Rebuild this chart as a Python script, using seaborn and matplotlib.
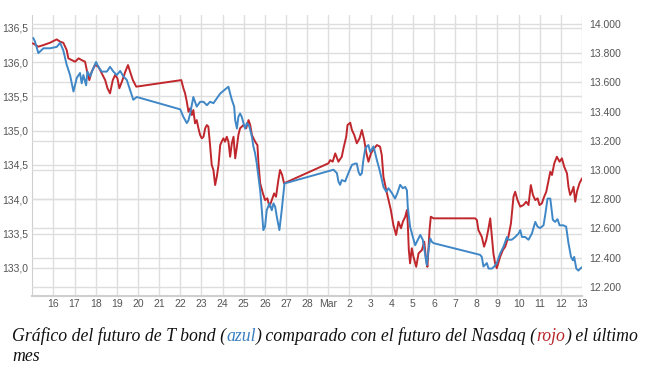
import pandas as pd
import seaborn as sns
import matplotlib.pyplot as plt
from matplotlib.ticker import FuncFormatter, FixedLocator

# T bond future (left axis), day number: Feb 16 = 16, Mar 1 = 29, Mar 13 = 41
bond_days = [15.05, 15.13, 15.29, 15.53, 15.84, 16.16, 16.32, 16.47, 16.63, 16.79, 16.95, 17.11, 17.26, 17.34,
             17.42, 17.55, 17.61, 17.74, 17.89, 18.02, 18.13, 18.29, 18.53, 18.68, 18.84, 19.00, 19.16, 19.31,
             19.47, 19.63, 19.78, 19.95,
             22.00, 22.15, 22.31, 22.39, 22.47, 22.62, 22.70, 22.78, 22.94, 23.10, 23.26, 23.41, 23.57, 23.73,
             23.89, 24.04, 24.28, 24.36, 24.44, 24.55, 24.60, 24.68, 24.75, 24.83, 24.91, 24.99, 25.07, 25.15,
             25.27, 25.39, 25.46, 25.54, 25.62, 25.70, 25.78, 25.86, 25.93, 26.01, 26.09, 26.22, 26.33, 26.41,
             26.49, 26.57, 26.69, 26.80, 26.88, 26.93,
             29.25, 29.41, 29.48, 29.56, 29.64, 29.80, 29.95, 30.12, 30.27, 30.35, 30.43, 30.51, 30.59, 30.66,
             30.74, 30.82, 30.90, 30.98, 31.14, 31.30, 31.45, 31.61, 31.74, 31.85, 32.01, 32.16, 32.27, 32.40,
             32.53, 32.64, 32.72, 32.76, 32.87, 33.00, 33.11, 33.19, 33.35, 33.47, 33.55, 33.66, 33.74, 33.82,
             33.90, 33.98,
             36.18, 36.26, 36.34, 36.50, 36.58, 36.74, 36.85, 36.97, 37.13, 37.29, 37.45, 37.52, 37.68, 37.84,
             38.00, 38.08, 38.16, 38.31, 38.47, 38.63, 38.79, 38.90, 39.02, 39.18, 39.26, 39.37, 39.50, 39.62,
             39.73, 39.84, 39.94, 40.12, 40.25, 40.36, 40.48, 40.57, 40.63, 40.73, 40.83, 40.92, 41.00]
bond_vals = [136.35, 136.30, 136.13, 136.20, 136.20, 136.22, 136.28, 136.17, 135.96, 135.81, 135.57, 135.77,
             135.84, 135.69, 135.81, 135.66, 135.86, 135.79, 135.91, 136.00, 135.93, 135.86, 135.86, 135.93,
             135.86, 135.81, 135.87, 135.79, 135.74, 135.59, 135.45, 135.49,
             135.31, 135.20, 135.11, 135.15, 135.25, 135.49, 135.42, 135.35, 135.42, 135.42, 135.37, 135.42,
             135.40, 135.47, 135.54, 135.58, 135.64, 135.54, 135.45, 135.35, 135.15, 135.03, 135.20, 135.25,
             135.20, 135.11, 135.03, 135.11, 135.06, 134.91, 134.77, 134.67, 134.52, 134.33, 134.13, 133.84,
             133.55, 133.60, 133.84, 133.94, 133.84, 133.94, 133.89, 133.74, 133.55, 133.84, 134.09, 134.23,
             134.43, 134.38, 134.26, 134.21, 134.28, 134.26, 134.38, 134.50, 134.52, 134.52, 134.40, 134.35,
             134.38, 134.57, 134.72, 134.77, 134.79, 134.69, 134.77, 134.57, 134.40, 134.18, 134.11, 134.16,
             134.09, 134.01, 134.09, 134.21, 134.16, 134.18, 134.13, 133.89, 133.60, 133.45, 133.33, 133.38,
             133.48, 133.41, 133.26, 133.04, 133.26, 133.43, 133.38, 133.36,
             133.19, 133.16, 133.02, 133.07, 132.99, 132.99, 133.02, 133.07, 133.21, 133.31, 133.45, 133.41,
             133.41, 133.45, 133.50, 133.55, 133.45, 133.45, 133.41, 133.50, 133.67, 133.60, 133.58, 133.62,
             133.77, 134.01, 134.01, 133.70, 133.67, 133.71, 133.62, 133.62, 133.60, 133.36, 133.16, 133.11,
             133.16, 132.99, 132.96, 132.99, 133.01]

# Nasdaq future (right axis)
nasdaq_days = [15.03, 15.29, 15.53, 15.84, 16.16, 16.32, 16.47, 16.63, 16.71, 16.87, 17.03, 17.19, 17.34, 17.50,
               17.58, 17.70, 17.81, 17.97, 18.13, 18.29, 18.45, 18.56, 18.68, 18.81, 18.92, 19.03, 19.12, 19.24,
               19.40, 19.53, 19.63, 19.76, 19.92,
               22.05, 22.15, 22.23, 22.31, 22.39, 22.47, 22.55, 22.62, 22.70, 22.78, 22.86, 22.94, 23.02, 23.10,
               23.18, 23.26, 23.33, 23.41, 23.49, 23.57, 23.65, 23.73, 23.81, 23.89, 23.96, 24.04, 24.12, 24.20,
               24.28, 24.36, 24.44, 24.52, 24.60, 24.68, 24.75, 24.83, 24.99, 25.12, 25.23, 25.31, 25.39, 25.50,
               25.59, 25.65, 25.70, 25.78, 25.91, 26.01, 26.12, 26.22, 26.33, 26.44, 26.53, 26.64, 26.72, 26.82,
               26.91,
               29.01, 29.09, 29.21, 29.33, 29.48, 29.64, 29.72, 29.85, 29.91, 30.04, 30.12, 30.23, 30.35, 30.48,
               30.59, 30.70, 30.79, 30.90, 31.02, 31.14, 31.30, 31.45, 31.53, 31.61, 31.74, 31.85, 31.96, 32.08,
               32.21, 32.32, 32.44, 32.53, 32.64, 32.72, 32.76, 32.81, 32.87, 32.95, 33.03, 33.16, 33.27, 33.43,
               33.54, 33.63, 33.69, 33.79, 33.85, 33.98, 35.95,
               36.03, 36.10, 36.26, 36.37, 36.47, 36.58, 36.66, 36.74, 36.81, 36.89, 36.97, 37.13, 37.26, 37.37,
               37.52, 37.64, 37.76, 37.84, 37.95, 38.08, 38.23, 38.36, 38.47, 38.58, 38.68, 38.79, 38.90, 38.99,
               39.10, 39.21, 39.31, 39.42, 39.50, 39.58, 39.69, 39.81, 39.94, 40.05, 40.16, 40.29, 40.36, 40.44,
               40.52, 40.60, 40.68, 40.76, 40.88, 41.00]
nasdaq_vals = [13868, 13845, 13856, 13872, 13895, 13879, 13872, 13822, 13765, 13753, 13742, 13765, 13753, 13742,
               13685, 13616, 13673, 13719, 13708, 13662, 13616, 13560, 13525, 13616, 13651, 13628, 13560, 13605,
               13673, 13719, 13673, 13616, 13571,
               13616, 13560, 13525, 13468, 13399, 13423, 13377, 13411, 13320, 13342, 13286, 13240, 13217, 13228,
               13286, 13308, 13297, 13171, 13034, 13000, 12897, 12954, 13034, 13171, 13194, 13217, 13194, 13228,
               13194, 13091, 13183, 13228, 13080, 13160, 13240, 13286, 13308, 13286, 13342, 13308, 13240, 13206,
               13183, 13171, 13046, 12909, 12840, 12794, 12806, 12749, 12794, 12840, 12817, 12931, 13000, 12966,
               12909,
               13046, 13068, 13057, 13114, 13057, 13091, 13149, 13228, 13308, 13324, 13274, 13240, 13183, 13217,
               13274, 13206, 13125, 13057, 13114, 13142, 13171, 13160, 13103, 12954, 12863, 12794, 12726, 12623,
               12555, 12646, 12601, 12646, 12680, 12726, 12635, 12452, 12361, 12464, 12406, 12337, 12429, 12452,
               12509, 12383, 12337, 12589, 12680, 12669, 12669,
               12657, 12589, 12543, 12475, 12520, 12601, 12669, 12543, 12429, 12361, 12327, 12406, 12452, 12475,
               12543, 12635, 12817, 12851, 12794, 12749, 12760, 12783, 12760, 12897, 12829, 12794, 12806, 12760,
               12771, 12817, 12851, 12931, 12988, 12966, 13046, 13091, 13057, 13080, 13022, 12977, 12885, 12829,
               12851, 12885, 12783, 12851, 12909, 12943]

tick_days = list(range(16, 42))
tick_labels = [str(d) for d in range(16, 29)] + ["Mar"] + [str(d) for d in range(2, 14)]
left_ticks = [133.0, 133.5, 134.0, 134.5, 135.0, 135.5, 136.0, 136.5]
right_ticks = [12200, 12400, 12600, 12800, 13000, 13200, 13400, 13600, 13800, 14000]

caption_parts = [("Gráfico del futuro de T bond (", "#111111"), ("azul", "#3b7fc0"),
                 (") comparado con el futuro del Nasdaq (", "#111111"), ("rojo", "#b8262a"),
                 (") el último", "#111111")]
caption_line2 = "mes"

BLUE = "#3f87c6"
RED = "#c0272d"
GRID = "#dedede"
TXT = "#555555"

sns.set_style("white")
plt.rcParams['font.family'] = ['Liberation Sans', 'DejaVu Sans']

fig = plt.figure(figsize=(6.5, 3.75), dpi=100)
ax = fig.add_axes([32 / 650, 79 / 375, 550 / 650, 281 / 375])
axr = ax.twinx()
axb = ax.twinx()

bond = pd.DataFrame({"day": bond_days, "price": bond_vals})
nasdaq = pd.DataFrame({"day": nasdaq_days, "price": nasdaq_vals})

sns.lineplot(data=nasdaq, x="day", y="price", ax=axr, color=RED, lw=1.4, estimator=None, sort=False)
sns.lineplot(data=bond, x="day", y="price", ax=axb, color=BLUE, lw=1.4, estimator=None, sort=False)

ax.set_xlim(14.99, 41.0)
ax.set_ylim(132.59, 136.685)
axb.set_ylim(132.59, 136.685)
axr.set_ylim(12137, 14062)

ax.xaxis.set_major_locator(FixedLocator(tick_days))
ax.set_xticklabels(tick_labels)
ax.yaxis.set_major_locator(FixedLocator(left_ticks))
ax.yaxis.set_major_formatter(FuncFormatter(lambda v, p: f"{v:.1f}".replace(".", ",")))
axr.yaxis.set_major_locator(FixedLocator(right_ticks))
axr.yaxis.set_major_formatter(FuncFormatter(lambda v, p: f"{int(v):,}".replace(",", ".")))

ax.grid(True, color=GRID, lw=1)
axr.grid(True, axis="y", color=GRID, lw=1)
axr.set_axisbelow(True)

ax.tick_params(axis="y", length=0, colors=TXT, labelsize=7.5, pad=3)
ax.tick_params(axis="x", length=0, colors=TXT, labelsize=7.5, pad=2.5)
axr.tick_params(axis="y", length=0, colors=TXT, labelsize=7.5, pad=5)
axb.set_yticks([])
for a in (ax, axr, axb):
    a.set_xlabel("")
    a.set_ylabel("")
    for s in a.spines.values():
        s.set_visible(False)
ax.spines["left"].set_visible(True)
ax.spines["bottom"].set_visible(True)
ax.spines["left"].set_color("#cfcfcf")
ax.spines["bottom"].set_color("#cfcfcf")
ax.spines["bottom"].set_linewidth(1.5)

# caption with coloured words
renderer = fig.canvas.get_renderer()
x = 12 / 650
for txt, col in caption_parts:
    t = fig.text(x, (375 - 341) / 375, txt, color=col, fontsize=12.8, style="italic",
                 family=["Liberation Serif", "DejaVu Serif"], va="baseline")
    x += t.get_window_extent(renderer).width / fig.bbox.width
fig.text(12 / 650, (375 - 361) / 375, caption_line2, color="#111111", fontsize=12.8, style="italic",
         family=["Liberation Serif", "DejaVu Serif"], va="baseline")

fig.savefig("out.png", dpi=100)
